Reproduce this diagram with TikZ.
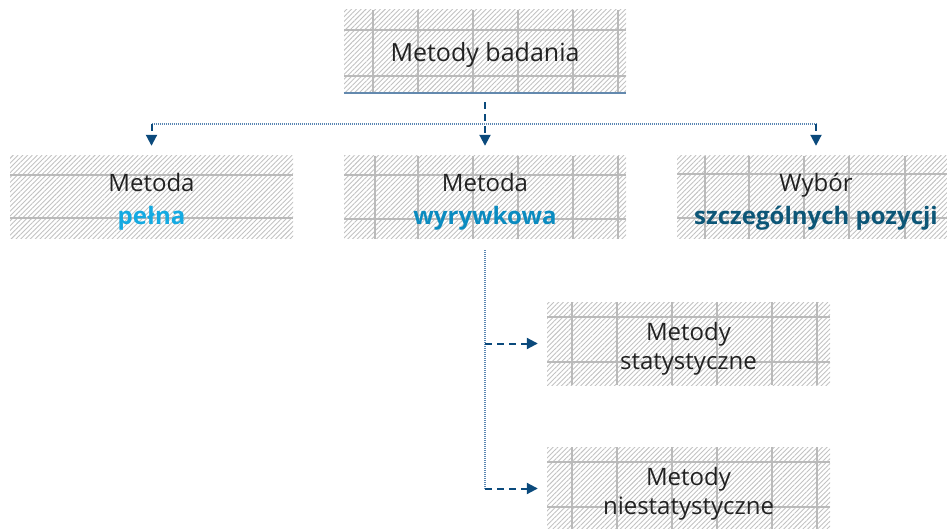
\documentclass[tikz,border=0pt]{standalone}
\usepackage{fontspec}
\setmainfont{Open Sans}
\usetikzlibrary{patterns.meta,arrows.meta}

\definecolor{ink}{HTML}{222222}
\definecolor{arrowblue}{HTML}{0B4A7C}
\definecolor{dotblue}{HTML}{5A86B2}
\definecolor{rulecol}{HTML}{6389AE}
\definecolor{cyanA}{HTML}{14AAE2}
\definecolor{cyanB}{HTML}{0A8BC0}
\definecolor{tealC}{HTML}{0C5677}

\begin{document}
\begin{tikzpicture}[x=1pt,y=-1pt,
  cell/.style={draw=none, inner sep=0pt, minimum width=282pt, minimum height=83pt,
    pattern={Lines[angle=45,distance=3.4pt,line width=0.9pt]}, pattern color=black!24},
  gridline/.style={draw=black!27, line width=1.3pt},
  cellgrid/.style 2 args={path picture={
    \foreach \gx in {#1}
      \draw[gridline] ([xshift=\gx pt]path picture bounding box.north west)
                   -- ([xshift=\gx pt]path picture bounding box.south west);
    \foreach \gy in {#2}
      \draw[gridline] ([yshift=-\gy pt]path picture bounding box.north west)
                   -- ([yshift=-\gy pt]path picture bounding box.north east);
  }},
  cellhgrid/.style={path picture={
    \foreach \gy in {#1}
      \draw[gridline] ([yshift=-\gy pt]path picture bounding box.north west)
                   -- ([yshift=-\gy pt]path picture bounding box.north east);
  }},
  txt/.style={align=center, text=ink, inner sep=0pt, font=\fontsize{24}{33}\selectfont},
  txtlow/.style={txt, font=\fontsize{24}{29}\selectfont},
  flow/.style={draw=arrowblue, line width=2pt, dash pattern=on 7pt off 5pt,
    -{Triangle[width=11pt,length=11pt]}},
  dotline/.style={draw=dotblue, line width=1.4pt, dash pattern=on 1pt off 1pt},
  rulestyle/.style={draw=rulecol, line width=2pt}
]
\useasboundingbox (0,0) rectangle (947,529);
\clip (0,0) rectangle (947,529);

% boxes
\node[cell, cellgrid={29,74,129,174,229,274}{20,66}] (mb) at (485,51.5) {};
\node[cell, minimum width=283pt, cellhgrid={19,62}] (pel) at (151.5,197.5) {};
\node[cell, cellgrid={31,74,129,174,229,274}{19,63}] (wyr) at (485,197.5) {};
\node[cell, minimum width=278pt, cellgrid={28,72,127,172,228,273}{18,62}] (wyb) at (816,197.5) {};
\node[cell, minimum width=283pt, cellgrid={25,70,125,170,225,270}{15,60}] (sta) at (688.5,343.5) {};
\node[cell, minimum width=283pt, cellgrid={25,70,125,170,225,270}{15,60}] (nie) at (688.5,488.5) {};

% rule under the root box
\draw[rulestyle] (mb.south west) -- (mb.south east);

% labels
\node[txt, font=\fontsize{25}{33}\selectfont] (mb-t) at ([yshift=-4pt]mb.center) {Metody badania};
\node[txt] (pel-t) at ([yshift=-4pt]pel.center) {Metoda\\{\bfseries\color{cyanA}pełna}};
\node[txt] (wyr-t) at ([yshift=-4pt]wyr.center) {Metoda\\{\bfseries\color{cyanB}wyrywkowa}};
\node[txt] (wyb-t) at ([yshift=-4pt]wyb.center) {Wybór\\{\bfseries\color{tealC}szczególnych pozycji}};
\node[txtlow] (sta-t) at ([yshift=-5pt]sta.center) {Metody\\statystyczne};
\node[txtlow] (nie-t) at ([yshift=-5pt]nie.center) {Metody\\niestatystyczne};

% connectors
\coordinate (bus) at (485,124);
\draw[dotline] (bus -| pel.north) -- (bus -| wyb.north);
\draw[flow, shorten <=9pt, shorten >=10pt] (mb.south) -- (wyr.north);
\draw[flow, shorten >=10pt] (bus -| pel.north) -- (pel.north);
\draw[flow, shorten >=10pt] (bus -| wyb.north) -- (wyb.north);
\draw[dotline, shorten <=11pt] (wyr.south) -- (wyr.south |- nie.west);
\draw[flow, shorten >=9pt] (wyr.south |- sta.west) -- (sta.west);
\draw[flow, shorten >=9pt] (wyr.south |- nie.west) -- (nie.west);
\end{tikzpicture}
\end{document}
